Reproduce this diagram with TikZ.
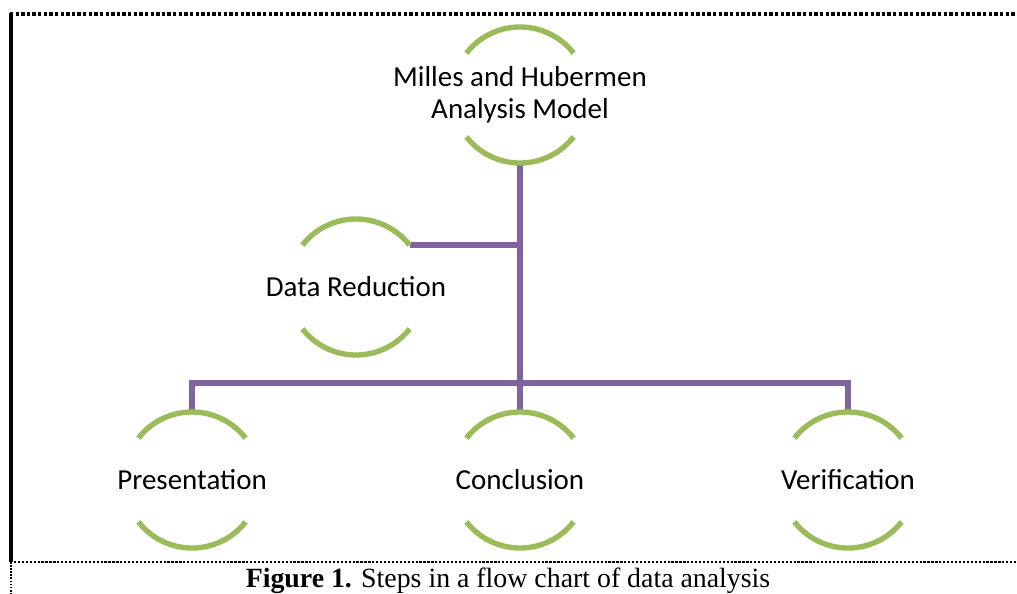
\documentclass[tikz,border=0pt]{standalone}
\usepackage{fontspec}
\setmainfont{Liberation Serif}
\newfontfamily\carlito{Carlito}
\usepackage{tikz}

\definecolor{arcgreen}{RGB}{155,187,89}
\definecolor{linkpurple}{RGB}{128,100,162}

\begin{document}
\begin{tikzpicture}[x=0.025cm,y=-0.025cm,
  stage/.style={circle,minimum size=3.4cm,inner sep=0pt,outer sep=0pt},
  txt/.style={font=\carlito\fontsize{20.6}{22.8}\selectfont,align=center,text=black},
  arcline/.style={arcgreen,line width=3.8pt},
  link/.style={linkpurple,line width=4.4pt}]
\useasboundingbox (0,0) rectangle (1017,593);
% Frame
\draw[line width=2.3pt,dash pattern=on 2.4pt off 1.6pt] (10,14) -- (1017,14);
\draw[line width=2.4pt] (11,13) -- (11,562);
\draw[line width=1.6pt,dash pattern=on 1.6pt off 1.2pt] (10,562) -- (1017,562);
\draw[line width=1.2pt,dash pattern=on 1.2pt off 1pt] (11,562) -- (11,593);
% Stages
\node[stage,label={[txt]center:{Milles and Hubermen\\Analysis Model}}] (model) at (520,95) {};
\node[stage,label={[txt]center:Data Reduction}] (reduc) at (356,287) {};
\node[stage,label={[txt]center:Presentation}] (pres) at (192,480) {};
\node[stage,label={[txt]center:Conclusion}] (concl) at (520,480) {};
\node[stage,label={[txt]center:Verification}] (verif) at (848,480) {};
% Links
\coordinate (bus) at (520,383);
\draw[link] (model.south) -- (concl.north);
\draw[link] (reduc.38) -- (reduc.38 -| model.south);
\draw[link] (pres.north) |- (bus) -| (verif.north);
% Arcs above and below each stage
\foreach \n in {model,reduc,pres,concl,verif} {
  \draw[arcline] (\n.38) arc[start angle=38,end angle=142,radius=1.7cm];
  \draw[arcline] (\n.218) arc[start angle=218,end angle=322,radius=1.7cm];
}
% Caption
\node[anchor=base,font=\fontsize{19.8}{22}\selectfont] (caption) at (508,587) {\textbf{Figure 1.} Steps in a flow chart of data analysis};
\end{tikzpicture}
\end{document}
